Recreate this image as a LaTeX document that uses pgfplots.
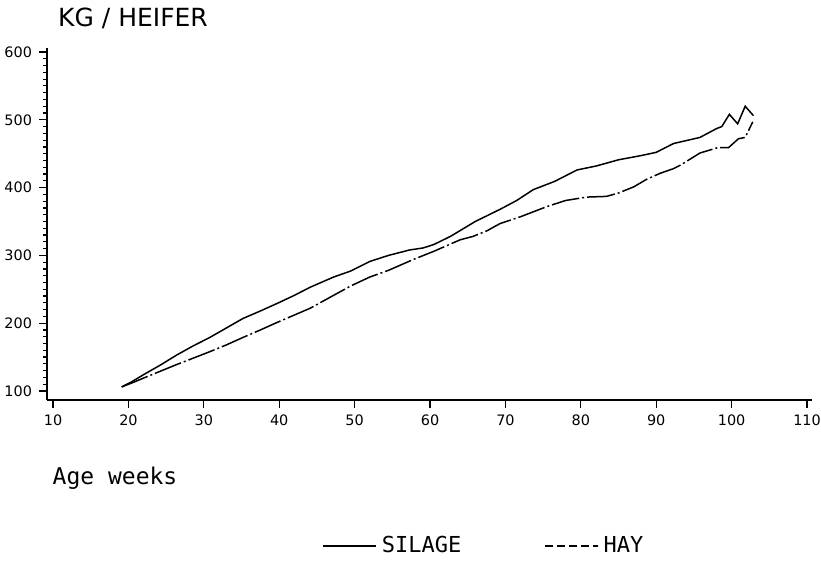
\documentclass[border=0pt]{standalone}
\usepackage{fontspec}
\setmainfont{DejaVu Sans}
\newfontfamily\monofont{DejaVu Sans Mono}
\usepackage{pgfplots}
\pgfplotsset{compat=1.18}

\begin{document}
\begin{tikzpicture}
\useasboundingbox (-23.5pt,-83.5pt) rectangle (387pt,200pt);
\begin{axis}[
  at={(0pt,0pt)}, anchor=south west,
  scale only axis, width=382.5pt, height=176pt,
  xmin=9.2, xmax=110.66, ymin=86.7, ymax=605.9,
  axis x line=bottom, axis y line=left,
  axis line style={-, line width=0.8pt},
  xtick={10,20,...,110}, ytick={100,200,...,600},
  minor y tick num=9,
  tick align=outside,
  major tick length=4pt, minor tick length=2pt,
  tick style={black, line width=0.6pt},
  /pgf/number format/assume math mode=true,
  ticklabel style={font=\fontsize{7.2}{8}\selectfont},
  legend style={at={(0.3595,-0.4148)}, anchor=west, draw=none, fill=none,
    inner sep=0pt, font=\monofont\fontsize{11}{12}\selectfont,
    nodes={inner sep=2.5pt},
    /tikz/every even column/.append style={column sep=39pt}},
  legend columns=2,
  legend image code/.code={\draw[#1, line width=0.7pt] (0pt,0pt) -- (26.5pt,0pt);},
]
\addplot[black, line width=0.75pt] coordinates {
(19.1,106) (20.5,114) (22.0,124) (24.2,138) (26.4,153) (28.5,166) (30.8,179)
(33.0,193) (35.2,207) (37.5,218) (39.7,229) (42.0,241) (44.1,253) (47.2,268)
(49.5,277) (52.0,291) (54.5,300) (57.3,308) (59.1,311) (60.5,316) (62.7,328)
(66.0,350) (69.3,368) (71.5,381) (73.7,397) (76.5,409) (79.5,426) (82.1,432)
(85.0,441) (87.9,447) (90.0,452) (92.3,465) (95.8,474) (98.0,487) (98.7,490)
(99.7,508) (100.8,494) (101.8,520) (102.9,506)
};
\addplot[black, line width=0.75pt, dash pattern=on 14pt off 1.5pt on 1pt off 1.5pt, forget plot] coordinates {
(19.1,106) (20.5,112) (22.0,119) (24.2,129) (26.4,139) (28.5,148) (30.8,158)
(33.0,168) (35.2,179) (37.5,190) (39.7,201) (42.0,212) (44.1,222) (47.2,241)
(49.5,255) (52.0,268) (54.5,278) (57.8,294) (60.5,306) (64.0,323) (65.7,328)
(67.5,336) (69.3,347) (72.0,357) (75.5,372) (78.0,381) (80.8,386) (83.4,387)
(85.0,392) (87.0,401) (88.7,412) (90.5,421) (92.3,428) (93.2,433) (95.8,451)
(98.2,459) (99.6,459) (100.9,472) (101.8,474) (102.5,490) (102.8,497)
};
\addlegendimage{black, dash pattern=on 4pt off 2pt}
\legend{SILAGE,HAY}
\end{axis}
\node[font=\fontsize{12.5}{14}\selectfont] at (43pt,191pt) {KG / HEIFER};
\node[font=\monofont\fontsize{11.5}{13}\selectfont] at (34pt,-39pt) {Age weeks};
\end{tikzpicture}
\end{document}
